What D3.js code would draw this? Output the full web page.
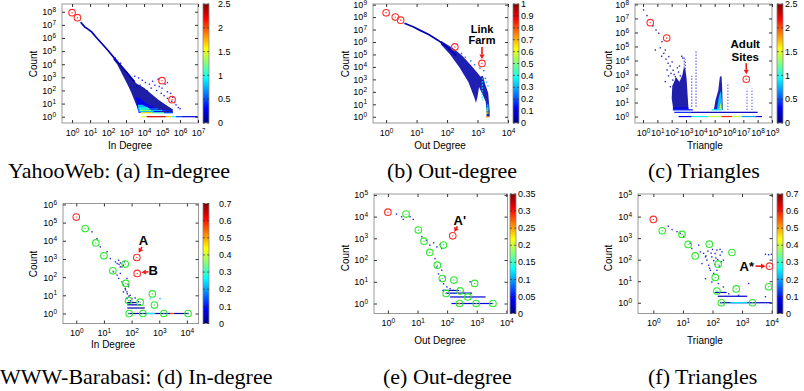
<!DOCTYPE html>
<html>
<head>
<meta charset="utf-8">
<script src="https://cdn.jsdelivr.net/npm/d3@7"></script>
<style>
  body { margin: 0; background: #fff; }
  svg { display: block; }
  text { font-family: "Liberation Sans", Arial, sans-serif; }
</style>
</head>
<body>
<svg id="chart" width="804" height="391"></svg>
<script>
// ---- tick values ----
const dec = n => d3.range(0, n + 1).map(e => +("1e" + e));
const aXTicks = dec(7), aYTicks = dec(8), aCbTicks = [0, 0.5, 1, 1.5, 2, 2.5];
const bXTicks = dec(4), bYTicks = dec(9), bCbTicks = [0, 0.1, 0.2, 0.3, 0.4, 0.5, 0.6, 0.7, 0.8, 0.9, 1];
const cXTicks = dec(9), cYTicks = dec(8), cCbTicks = [0, 0.5, 1, 1.5, 2, 2.5];
const dXTicks = dec(4), dYTicks = dec(6), dCbTicks = [0, 0.1, 0.2, 0.3, 0.4, 0.5, 0.6, 0.7];
const eXTicks = dec(4), eYTicks = dec(5), eCbTicks = [0, 0.05, 0.1, 0.15, 0.2, 0.25, 0.3, 0.35];
const fXTicks = dec(4), fYTicks = dec(5), fCbTicks = [0, 0.1, 0.2, 0.3, 0.4, 0.5, 0.6, 0.7];

// ---- (a) YahooWeb in-degree ----
const aRidge = [[3,1.6e7],[5,7e6],[8,4.5e6],[12.6,2.8e6],[20,1.3e6],[40,4.5e5],[100,1.1e5],[300,1.8e4],[1000,2800],[3000,450]];
// patches: [value, [x,count], ...]
const aPatches = [
  [0.06, [200,3e4],[500,9000],[1000,3200],[2000,800],[4000,320],[1e4,160],[2.5e4,56],[6.3e4,20],[1.26e5,10],[2.5e5,5.6],[4e5,3.5],[4e5,1.9],[6300,1.9],[4500,4],[3200,12.6],[2000,63],[1260,250],[630,1600],[320,1e4],[200,2.2e4]],
  [0.3, [3500,30],[6000,25],[1.2e4,12],[3e4,6],[8e4,3],[8e4,1.9],[5000,1.9],[4200,5]],
  [0.85, [4500,8],[8000,8],[2e4,4],[4e4,2.2],[5000,2.2]]
];
// rows: [count, x0, x1, value]
const aRows = [
  [1,7000,1.4e4,1.5],[1,1.4e4,1.6e5,2.3],[1,1.6e5,3.5e5,1.7],[1,3.5e5,6e5,1.0],[1,6e5,1.2e6,0.45],[1,1.2e6,1e7,0.2],
  [2,6500,3e4,1.6],[2,3e4,1.3e5,1.1],[2,1.3e5,4e5,0.5],
  [3,6000,2.5e4,1.3],[3,2.5e4,1e5,0.8],[3,1e5,3e5,0.4],
  [4,5500,2e4,1.1],[4,2e4,6e4,0.6],[5,5000,1.6e4,0.9],[6,5000,1.2e4,0.75]
];
const aDots = [
  [3000,1200,0.3],[5000,900,0.3],[8000,600,0.3],[1.2e4,400,0.3],[2e4,300,0.3],[3e4,500,0.3],[4e4,250,0.3],[6e4,700,0.3],
  [7e4,200,0.3],[1e5,150,0.3],[1.5e5,300,0.3],[2e5,80,0.3],[3e5,60,0.3],[4e5,30,0.3],[5e5,12,0.3],[6e5,8,0.3],[8e5,5,0.3],
  [1e6,4,0.3],[2.5e4,150,0.1],[5e4,100,0.1],[9e4,60,0.1],[1.3e5,40,0.1],[2e5,25,0.1],[3.5e5,15,0.1],[1.5e4,90,0.1],
  [4000,200,0.1],[6000,250,0.1],[300,2e4,0.3],[250,3e4,0.3],[500,1.2e4,0.3],[7e4,800,0.3],[2e5,400,0.3]
];
const aRed = [[1,8.5e7],[2,3.5e7],[1e5,560],[3.6e5,20]];

// ---- (b) YahooWeb out-degree ----
const bRidge = [[4,3.2e7],[8,1.6e7],[12.6,9e6],[25,4e6],[50,1.4e6],[100,4e5],[200,8e4]];
const bPatches = [
  [0.04, [63,1.26e6],[158,3.2e5],[316,8e4],[630,1.26e4],[1000,3200],[1260,1600],[1500,2000],[1780,400],[2240,80],[2500,3.2],[2500,1],[2000,1],[1860,16],[1580,40],[1320,100],[1120,250],[1000,40],[890,12.6],[794,32],[500,630],[250,1e4],[126,1e5],[63,6.3e5]]
];
const bVerts = [[1450,20,1500,0.4],[1400,30,600,0.3]];
const bRows = [[1,1900,2300,0.75],[2,1900,2300,0.6],[3,1900,2300,0.5],[4,1950,2300,0.45],[5,1950,2300,0.4],[6,2000,2300,0.35],[8,2000,2300,0.3],[10,2000,2300,0.25]];
const bDots = [[300,1.2e5,0.2],[400,6e4,0.2],[600,3e4,0.2],[800,1.5e4,0.2],[1200,8000,0.2],[1600,5000,0.2],[1800,1200,0.2],[2000,600,0.3],[2200,300,0.3]];
const bRed = [[1,2.2e8],[2,1e8],[3,5.6e7],[180,4e5],[1400,1.9e4]];

// ---- (c) YahooWeb triangles ----
const cPatches = [
  [0.08, [110,150],[200,600],[350,300],[550,900],[700,3000],[900,2500],[1100,500],[1300,30],[1500,3],[130,3],[100,20]],
  [0.12, [8.7e4,2.9],[1.15e5,15],[1.8e5,80],[2.3e5,690],[3e5,780],[3.3e5,135],[3.7e5,2.9]],
  [0.85, [1.4e5,2.9],[1.9e5,20],[2.6e5,70],[3.2e5,15],[3.5e5,2.9]],
  [1.5, [2e5,2.9],[2.6e5,10],[3.2e5,2.9]]
];
const cVerts = [[5000,5,5e4,0.35],[8.3e5,3,200,0.3],[1.8e7,3,100,0.3],[4e7,3,100,0.3],[2500,5,800,0.3],[750,3000,1.9e4,0.1],[900,2500,1.2e4,0.1]];
const cRows = [
  [1,300,2500,0.3],[1,2500,3.7e4,0.9],[1,3.7e4,3e5,1.4],[1,3e5,1.6e6,2.1],[1,1.6e6,8e6,1.4],[1,8e6,7e7,0.7],[1,7e7,2e8,0.2],
  [2,150,2000,0.4],[2,2000,1e8,0.15],[3,120,3000,0.35],[3,6e4,3e5,0.9],[4,120,1500,0.3]
];
const cDots = [
  [1.1,4e7,0.1],[1.9,1.6e7,0.1],[4.8,2.9e6,0.1],[8.1,1.5e6,0.1],[12.6,8.7e5,0.1],[21,2.2e5,0.1],[7.2,5.6e4,0.1],[36,5.6e4,0.1],
  [63,1.9e4,0.1],[28,3.2e4,0.1],[48,2100,0.1],[107,7900,0.1],[36,310,0.1],[81,135,0.1],[182,690,0.1],[16,8e4,0.1],
  [40,1.26e4,0.1],[79,4000,0.1],[20,2e4,0.1],[126,2000,0.1],[56,6300,0.1],[150,1000,0.1],[200,500,0.1],[250,3000,0.1],
  [300,1500,0.1],[400,800,0.1],[350,4000,0.1],[60,800,0.1],[90,1200,0.1],[120,400,0.1],[500,2e4,0.1],[600,1.5e4,0.1]
];
const cRed = [[3.2,5e6],[45,4e5],[1.6e7,460]];

// ---- (d) WWW-Barabasi in-degree ----
const dRows = [[1,75,1.2e4,0.03],[1,350,700,0.25],[1,2500,3500,0.55],[2,70,300,0.03],[3,70,220,0.03],[4,70,150,0.03]];
const dDots = [
  [3.7,3.1e4,0.03],[5.6,1.3e4,0.03],[7.4,4600,0.03],[13,2500,0.03],[17,1050,0.03],[26,690,0.03],[30,560,0.03],[34,850,0.03],
  [39,370,0.03],[22,195,0.03],[30,130,0.03],[34,85,0.03],[45,55,0.03],[51,36,0.03],[59,24,0.03],[68,15.5,0.03],[78,30,0.03],
  [89,10,0.03],[102,6.6,0.03],[68,6.6,0.03],[135,7.2,0.03],[178,4.4,0.03],[51,15.5,0.03],[68,85,0.03],[39,160,0.03],
  [45,370,0.03],[40,600,0.03],[50,450,0.03],[35,500,0.03],[55,700,0.03],[60,20,0.03],[70,12,0.03],[80,9,0.03],[90,5,0.03],
  [110,4,0.03],[75,40,0.03],[470,6.6,0.25],[1070,6.6,0.2]
];
const dRed = [[1,2e5],[155,1200],[160,160]];
const dGreen = [[2.1,4.7e4],[5.1,7600],[10,1480],[21,222],[59,520],[62,45],[78,5.2],[205,4.2],[565,12],[672,2.9],[82,1],[256,1],[1470,1],[1.1e4,1]];

// ---- (e) WWW-Barabasi out-degree ----
const eRows = [[1,140,3500,0.03],[1,230,270,0.3],[2,126,2000,0.03],[3,90,700,0.03],[4,70,250,0.03]];
const eDots = [
  [1.95,1.3e4,0.03],[2.9,9800,0.03],[5.6,9800,0.03],[7.2,7400,0.03],[3.3,7400,0.03],[14,1200,0.03],[20,810,0.03],[26,480,0.03],
  [35,620,0.03],[45,400,0.03],[58,520,0.03],[66,340,0.03],[39,117,0.03],[45,48,0.03],[51,23,0.03],[58,11.7,0.03],[76,8.1,0.03],
  [98,5.8,0.03],[76,4,0.03],[126,4.8,0.03],[162,4,0.03],[85,16.6,0.03],[66,34,0.03],[600,10,0.03],[355,3.5,0.03]
];
const eRed = [[1,1.6e4],[155,1300]];
const eGreen = [[4.1,1.3e4],[10.7,2400],[16.6,740],[26,224],[75,490],[47,58],[69,14],[170,12],[93,2.9],[275,3.8],[850,8.4],[500,2],[263,1],[960,1],[3540,1]];

// ---- (f) WWW-Barabasi triangles ----
const fRows = [[1,180,1e4,0.05],[1,400,1500,0.25],[2,150,1500,0.05],[3,120,300,0.05]];
const fDots = [
  [3.2,3600,0.05],[4.3,2500,0.05],[6.3,2000,0.05],[8.1,1660,0.05],[10.7,1200,0.05],[17.8,575,0.05],[20,330,0.05],[34,470,0.05],
  [39,230,0.05],[50,195,0.05],[58,135,0.05],[65,95,0.05],[44,66,0.05],[74,55,0.05],[95,135,0.05],[123,195,0.05],[182,162,0.05],
  [209,230,0.05],[234,95,0.05],[85,32,0.05],[110,23,0.05],[141,32,0.05],[58,13,0.05],[95,9.1,0.05],[158,7.8,0.05],[234,5.4,0.05],
  [355,2.6,0.05],[760,2.2,0.05],[6200,178,0.05],[7900,170,0.05],[9800,178,0.05],[6200,1.9,0.05],[1660,7.8,0.05],
  [70,250,0.05],[100,300,0.05],[150,100,0.05],[60,150,0.05],[120,60,0.05],[80,40,0.05],[130,120,0.05],[170,50,0.05],
  [200,80,0.05],[90,200,0.05],[110,90,0.05],[140,280,0.05],[180,300,0.05]
];
const fRed = [[1,7400],[8500,50]];
const fGreen = [[2,2200],[9.3,1480],[15,510],[26,150],[78,525],[455,215],[155,62],[124,15],[141,3.5],[635,4.4],[7900,5.5],[200,1],[2250,1]];

// ---- layout ----
const panels = [
  { box:[62,4,198,123], xe:[-0.56,7], ye:[-0.48,8.59], xt:aXTicks, yt:aYTicks, cmax:2.5, cbt:aCbTicks, cb:[203,209], cbl:218,
    ridge:aRidge, patches:aPatches, rows:aRows, dots:aDots, red:aRed, xl:["In Degree",130,148.5], yl:[33,64] },
  { box:[373,4,508,123], xe:[-0.43,4], ye:[-0.5,9.05], xt:bXTicks, yt:bYTicks, cmax:1, cbt:bCbTicks, cb:[513,519], cbl:521,
    ridge:bRidge, patches:bPatches, verts:bVerts, rows:bRows, dots:bDots, red:bRed, xl:["Out Degree",440,148.5], yl:[345,64],
    notes:[{ at:[1400,1.9e4], size:11, lines:[[0,-30.5,"Link"],[0,-19,"Farm"]], arrow:[0,-16.5,0,-4.5] }] },
  { box:[635,4,772,123], xe:[-0.56,9], ye:[-0.46,8.03], xt:cXTicks, yt:cYTicks, cmax:2.5, cbt:cCbTicks, cb:[777,783], cbl:785,
    patches:cPatches, verts:cVerts, rows:cRows, dots:cDots, red:cRed, xl:["Triangle",705,148.5], yl:[608,64],
    notes:[{ at:[1.6e7,460], size:11.5, lines:[[-1,-31,"Adult"],[-1,-18.5,"Sites"]], arrow:[0,-16,0,-5] }] },
  { box:[63,203.5,198.5,323.5], xe:[-0.48,4.42], ye:[-0.55,6.05], xt:dXTicks, yt:dYTicks, cmax:0.7, cbt:dCbTicks, cb:[203,209], cbl:219,
    rows:dRows, dots:dDots, red:dRed, green:dGreen, xl:["In Degree",113,348], yl:[33,264],
    notes:[{ at:[155,1200], size:13, lines:[[6.5,-12.3,"A"]], arrow:[5.2,-10.5,1.8,-4.7] },
           { at:[160,160], size:13, lines:[[16,1.8,"B"]], arrow:[11.3,-1.7,4.3,-1] }] },
  { box:[374,194,507.5,313.5], xe:[-0.47,4.04], ye:[-0.46,5.04], xt:eXTicks, yt:eYTicks, cmax:0.35, cbt:eCbTicks, cb:[510,516], cbl:518,
    rows:eRows, dots:eDots, red:eRed, green:eGreen, xl:["Out Degree",440,344], yl:[345,258],
    notes:[{ at:[155,1300], size:13, lines:[[7,-10.8,"A'"]], arrow:[4.6,-9.4,1.6,-3.9] }] },
  { box:[638,194,772.5,313.5], xe:[-0.52,4.03], ye:[-0.5,5.05], xt:fXTicks, yt:fYTicks, cmax:0.7, cbt:fCbTicks, cb:[777,783], cbl:786,
    rows:fRows, dots:fDots, red:fRed, green:fGreen, xl:["Triangle",705,344], yl:[608,258],
    notes:[{ at:[8500,50], size:13, anchor:"end", lines:[[-15.5,4.6,"A*"]], arrow:[-14,0,-4,0] }] }
];
const captions = [
  ["YahooWeb: (a) In-degree", 8, 178], ["(b) Out-degree", 387, 178], ["(c) Triangles", 648, 178],
  ["WWW-Barabasi: (d) In-degree", 0, 384], ["(e) Out-degree", 383, 384], ["(f) Triangles", 648, 384]
];

// ---- drawing ----
const jetStops = [0, 0.125, 0.375, 0.625, 0.875, 1];
const jetColors = ["#00007f", "#0000ff", "#00ffff", "#ffff00", "#ff0000", "#7f0000"];
const jet = d3.scaleLinear().domain(jetStops).range(jetColors).clamp(true);

const svg = d3.select("#chart");
const defs = svg.append("defs");
const grad = defs.append("linearGradient").attr("id", "jet")
  .attr("x1", 0).attr("y1", 1).attr("x2", 0).attr("y2", 0);
jetStops.forEach((s, i) => grad.append("stop").attr("offset", s).attr("stop-color", jetColors[i]));

function powLabels(sel) {
  sel.selectAll(".tick text").each(function (d) {
    const t = d3.select(this);
    if (t.text() === "") return;
    t.text(null);
    t.append("tspan").text("10");
    t.append("tspan").attr("dy", "-0.5em").attr("font-size", "6.5px").text(Math.round(Math.log10(d)));
  });
}
function styleAxis(sel) {
  sel.select(".domain").remove();
  sel.selectAll(".tick line").attr("stroke", "#333");
  sel.attr("font-size", 9).attr("font-family", "Liberation Sans, Arial, sans-serif");
}

function drawCircles(g, data, x, y, color) {
  g.selectAll(null).data(data).join("circle")
    .attr("cx", d => x(d[0])).attr("cy", d => y(d[1])).attr("r", 3.3)
    .attr("fill", "none").attr("stroke", color).attr("stroke-width", 1.1);
  g.selectAll(null).data(data).join("circle")
    .attr("cx", d => x(d[0])).attr("cy", d => y(d[1])).attr("r", 0.7).attr("fill", color);
}

function arrow(g, x1, y1, x2, y2) {
  const dx = x2 - x1, dy = y2 - y1, L = Math.hypot(dx, dy), ux = dx / L, uy = dy / L;
  const hl = 4.5, hw = 2.6;
  g.append("line").attr("x1", x1).attr("y1", y1).attr("x2", x2 - ux * hl).attr("y2", y2 - uy * hl)
    .attr("stroke", "#f01818").attr("stroke-width", 1.6);
  const bx = x2 - ux * hl, by = y2 - uy * hl;
  g.append("path").attr("d", `M${x2},${y2}L${bx - uy * hw},${by + ux * hw}L${bx + uy * hw},${by - ux * hw}Z`)
    .attr("fill", "#f01818");
}

panels.forEach((p, i) => {
  const [x0, y0, x1, y1] = p.box;
  const x = d3.scaleLog().domain([10 ** p.xe[0], 10 ** p.xe[1]]).range([x0, x1]);
  const y = d3.scaleLog().domain([10 ** p.ye[0], 10 ** p.ye[1]]).range([y1, y0]);
  const col = v => jet(v / p.cmax);
  const g = svg.append("g");

  defs.append("clipPath").attr("id", "clip" + i).append("rect")
    .attr("x", x0).attr("y", y0).attr("width", x1 - x0).attr("height", y1 - y0);
  const plot = g.append("g").attr("clip-path", `url(#clip${i})`);
  const line = d3.line().x(d => x(d[0])).y(d => y(d[1]));

  (p.patches || []).forEach(pt => {
    plot.append("path").attr("d", line(pt.slice(1)) + "Z").attr("fill", col(pt[0])).attr("fill-opacity", 0.88);
  });
  if (p.ridge) plot.append("path").attr("d", line(p.ridge)).attr("fill", "none")
    .attr("stroke", col(0.05 * p.cmax)).attr("stroke-width", 1.7);
  plot.selectAll(null).data(p.verts || []).join("line")
    .attr("x1", d => x(d[0])).attr("x2", d => x(d[0])).attr("y1", d => y(d[1])).attr("y2", d => y(d[2]))
    .attr("stroke", d => col(d[3])).attr("stroke-width", 1.2).attr("stroke-dasharray", "1.2,1.8").attr("opacity", 0.75);
  plot.selectAll(null).data(p.rows || []).join("rect")
    .attr("x", d => x(d[1])).attr("y", d => y(d[0]) - 0.6)
    .attr("width", d => x(d[2]) - x(d[1])).attr("height", 1.2).attr("fill", d => col(d[3]));
  plot.selectAll(null).data(p.dots || []).join("rect")
    .attr("x", d => x(d[0]) - 0.7).attr("y", d => y(d[1]) - 0.7)
    .attr("width", 1.4).attr("height", 1.4).attr("fill", d => col(d[2])).attr("opacity", 0.85);

  // frame
  g.append("rect").attr("x", x0).attr("y", y0).attr("width", x1 - x0).attr("height", y1 - y0)
    .attr("fill", "none").attr("stroke", "#999").attr("stroke-width", 1);

  // axes with mirrored inward ticks
  g.append("g").attr("transform", `translate(0,${y1})`)
    .call(d3.axisBottom(x).tickValues(p.xt).tickSizeInner(-3).tickSizeOuter(0).tickPadding(6.5))
    .call(styleAxis).call(powLabels);
  g.append("g").attr("transform", `translate(0,${y0})`)
    .call(d3.axisTop(x).tickValues(p.xt).tickSizeInner(-3).tickSizeOuter(0).tickFormat(""))
    .call(styleAxis);
  g.append("g").attr("transform", `translate(${x0},0)`)
    .call(d3.axisLeft(y).tickValues(p.yt).tickSizeInner(-3).tickSizeOuter(0).tickPadding(6))
    .call(styleAxis).call(powLabels);
  g.append("g").attr("transform", `translate(${x1},0)`)
    .call(d3.axisRight(y).tickValues(p.yt).tickSizeInner(-3).tickSizeOuter(0).tickFormat(""))
    .call(styleAxis);

  // axis titles
  g.append("text").attr("x", p.xl[1]).attr("y", p.xl[2]).attr("text-anchor", "middle")
    .attr("font-size", 10).text(p.xl[0]);
  g.append("text").attr("transform", `translate(${p.yl[0]},${p.yl[1]}) rotate(-90)`)
    .attr("text-anchor", "middle").attr("dy", "0.35em").attr("font-size", 10).text("Count");

  // colour bar
  const [cx0, cx1] = p.cb;
  const cs = d3.scaleLinear().domain([0, p.cmax]).range([y1, y0]);
  g.append("rect").attr("x", cx0).attr("y", y0).attr("width", cx1 - cx0).attr("height", y1 - y0)
    .attr("fill", "url(#jet)").attr("stroke", "#888").attr("stroke-width", 0.8);
  g.selectAll(null).data(p.cbt).join("path")
    .attr("d", d => `M${cx0},${cs(d)}h1.8M${cx1},${cs(d)}h-1.8`).attr("stroke", "#333").attr("stroke-width", 0.8);
  g.selectAll(null).data(p.cbt).join("text")
    .attr("x", p.cbl).attr("y", d => cs(d)).attr("dy", "0.35em").attr("font-size", 9).text(d => String(d));

  // marked points
  drawCircles(g, p.red || [], x, y, "#ff2e2e");
  drawCircles(g, p.green || [], x, y, "#2ee82e");

  // annotations
  (p.notes || []).forEach(n => {
    const px = x(n.at[0]), py = y(n.at[1]);
    n.lines.forEach(l => g.append("text").attr("x", px + l[0]).attr("y", py + l[1])
      .attr("text-anchor", n.anchor || "middle").attr("font-size", n.size).attr("font-weight", "bold").text(l[2]));
    const a = n.arrow;
    arrow(g, px + a[0], py + a[1], px + a[2], py + a[3]);
  });
});

svg.selectAll(null).data(captions).join("text")
  .attr("x", d => d[1]).attr("y", d => d[2])
  .style("font-family", "'Liberation Serif', 'Times New Roman', serif")
  .attr("font-size", 22).text(d => d[0]);
</script>
</body>
</html>
